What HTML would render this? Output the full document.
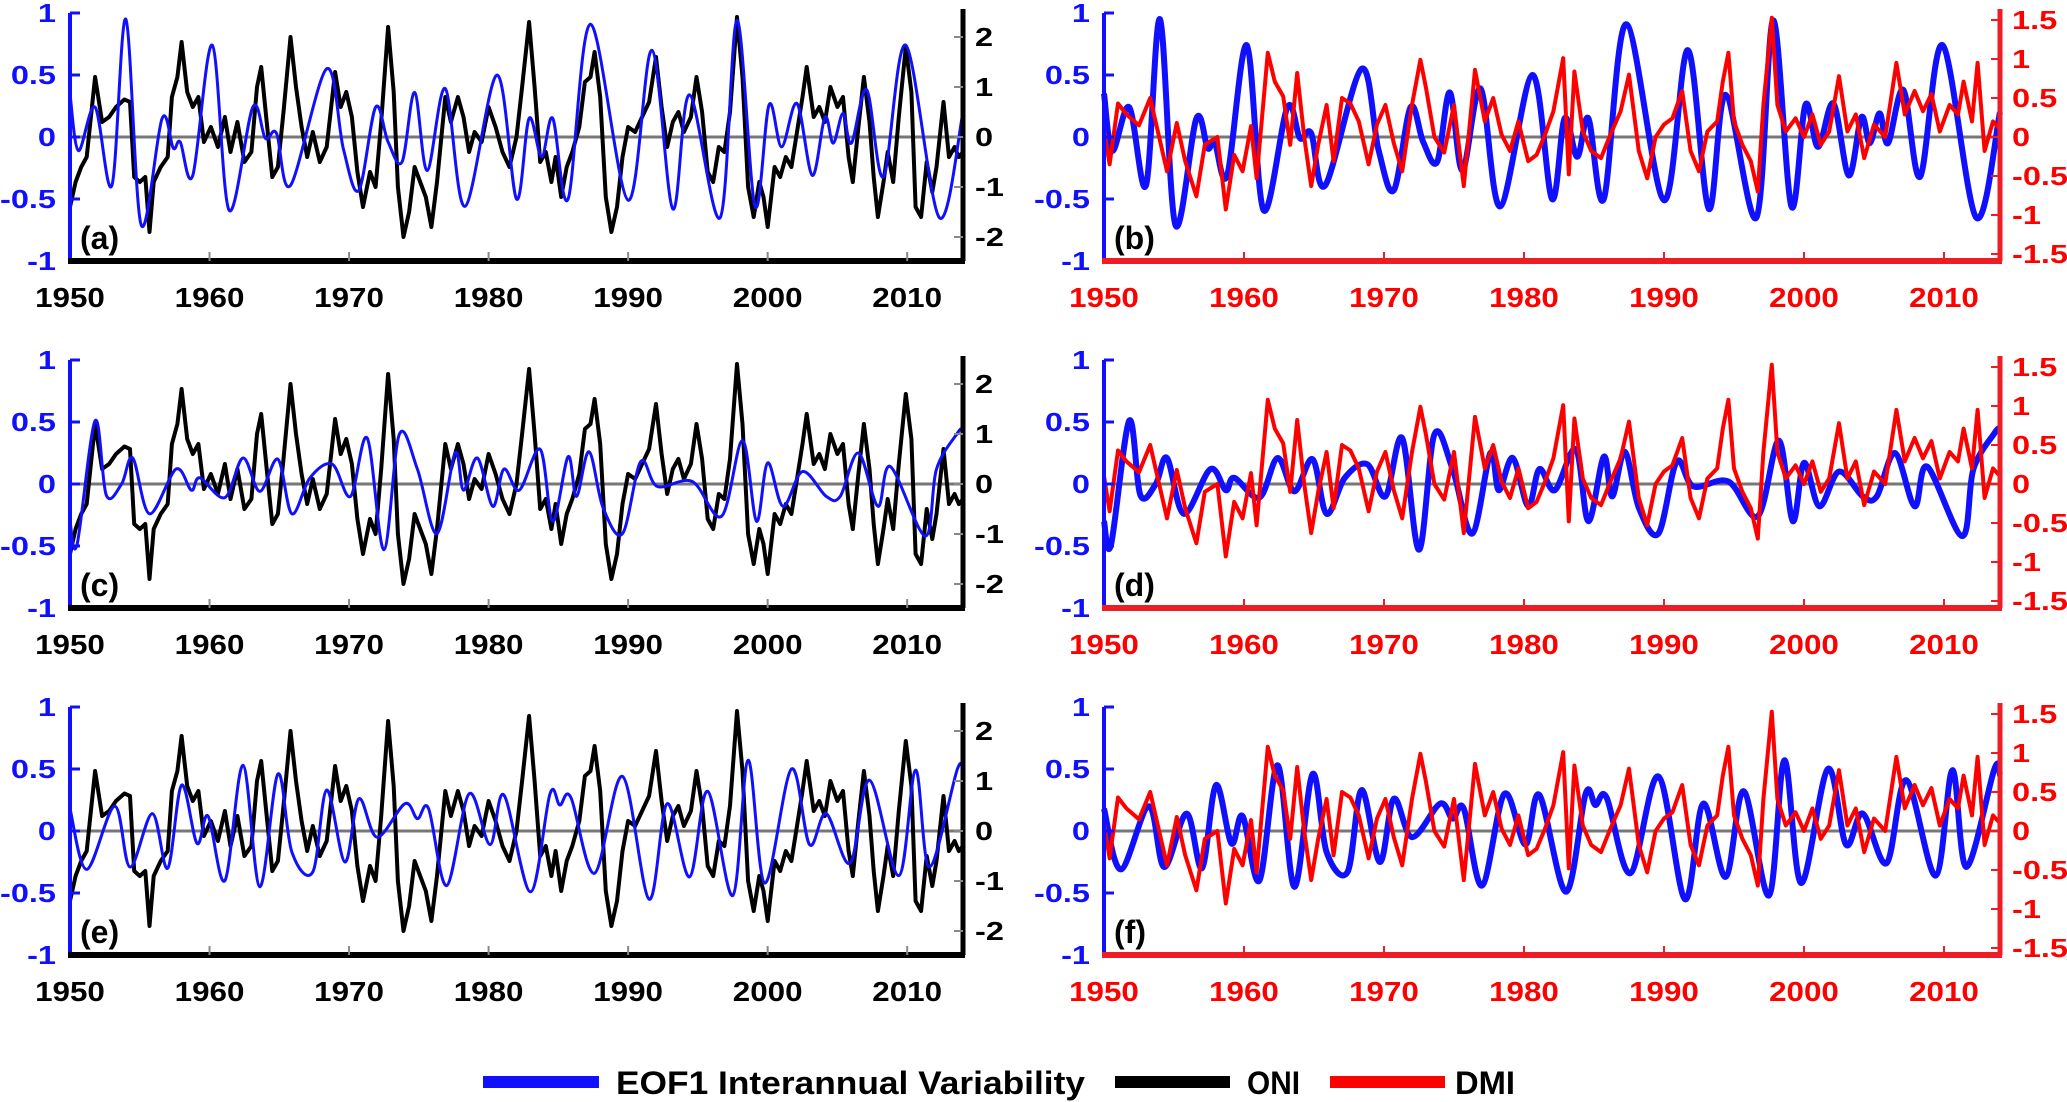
<!DOCTYPE html>
<html><head><meta charset="utf-8">
<style>
html,body{margin:0;padding:0;background:#fff;}
svg{display:block;font-family:"Liberation Sans",Arial,sans-serif;font-weight:bold;}
</style></head>
<body>
<svg id="fig" width="2067" height="1102" viewBox="0 0 2067 1102" xmlns="http://www.w3.org/2000/svg">
  <g id="panels"></g>
  <g id="legend">
    <line x1="483" y1="1082" x2="599" y2="1082" stroke="#1010ff" stroke-width="12"/>
    <text x="616" y="1094" font-size="32" textLength="469" lengthAdjust="spacingAndGlyphs">EOF1 Interannual Variability</text>
    <line x1="1115" y1="1082" x2="1230" y2="1082" stroke="#000" stroke-width="12"/>
    <text x="1247" y="1094" font-size="32" textLength="53" lengthAdjust="spacingAndGlyphs">ONI</text>
    <line x1="1330" y1="1082" x2="1445" y2="1082" stroke="#ff0000" stroke-width="12"/>
    <text x="1455" y="1094" font-size="32" textLength="60" lengthAdjust="spacingAndGlyphs">DMI</text>
  </g>
</svg>
<script>
// ---------- data ----------
const xTickYears = [1950,1960,1970,1980,1990,2000,2010];
const leftTicks = [1,0.5,0,-0.5,-1];
const leftTickLabels = ["1","0.5","0","-0.5","-1"];
const oniTicks = [2,1,0,-1,-2];
const oniTickLabels = ["2","1","0","-1","-2"];
const dmiTicks = [1.5,1,0.5,0,-0.5,-1,-1.5];
const dmiTickLabels = ["1.5","1","0.5","0","-0.5","-1","-1.5"];

const eofAYears = [1950.0,1950.6,1951.8,1953.0,1954.0,1955.1,1956.6,1957.4,1957.9,1958.8,1960.2,1961.4,1963.1,1964.0,1964.8,1965.8,1968.4,1969.6,1970.7,1971.9,1972.8,1973.8,1974.7,1975.6,1976.9,1978.3,1980.6,1982.0,1982.9,1983.8,1984.6,1985.7,1987.3,1990.0,1991.7,1993.2,1994.4,1996.6,1997.8,1999.1,2000.1,2001.0,2002.1,2003.2,2004.1,2004.7,2005.4,2006.0,2007.1,2008.3,2009.9,2012.3,2014.0];
const eofAValues = [0.35,-0.11,0.24,-0.39,0.95,-0.71,0.15,-0.09,-0.04,-0.31,0.74,-0.59,0.24,-0.01,0.03,-0.39,0.55,-0.1,-0.43,0.24,-0.04,-0.2,0.36,-0.27,0.39,-0.56,0.5,-0.5,0.15,-0.16,0.15,-0.5,0.91,-0.51,0.70,-0.58,0.34,-0.65,0.94,-0.56,0.26,-0.08,0.27,-0.31,0.16,-0.05,0.19,-0.05,0.38,-0.32,0.74,-0.65,0.2];

const eofCYears = [1950.0,1950.5,1951.8,1952.6,1953.7,1954.5,1955.7,1957.6,1958.7,1959.3,1961.1,1962.4,1963.6,1964.9,1965.9,1967.2,1968.8,1970.1,1971.3,1972.5,1973.6,1974.9,1976.3,1977.6,1978.2,1979.2,1980.3,1981.1,1982.2,1983.7,1984.6,1985.7,1986.3,1987.2,1988.2,1989.6,1990.9,1992.1,1994.6,1996.7,1998.2,1999.2,2000.0,2001.1,2002.5,2004.2,2005.2,2006.5,2007.9,2008.8,2011.3,2012.1,2013.6,2014.0];
const eofCValues = [-0.3,-0.49,0.51,-0.09,0.0,0.21,-0.24,0.12,-0.05,0.05,-0.11,0.21,-0.06,0.2,-0.24,0.05,0.16,-0.1,0.37,-0.53,0.4,0.12,-0.4,0.25,-0.05,0.21,-0.18,0.12,-0.05,0.28,-0.3,0.22,-0.1,0.26,-0.19,-0.4,0.18,-0.02,0.02,-0.26,0.35,-0.3,0.17,-0.18,0.1,-0.1,-0.1,0.25,-0.18,0.14,-0.42,0.12,0.41,0.45];

const eofEYears = [1950.0,1951.2,1953.2,1954.3,1955.9,1957.0,1958.0,1959.1,1959.9,1961.1,1962.4,1963.6,1964.9,1965.9,1967.4,1968.4,1969.7,1970.7,1972.0,1974.0,1974.9,1975.7,1977.0,1978.6,1980.1,1981.1,1983.0,1984.4,1985.1,1985.9,1987.6,1989.6,1991.5,1992.8,1994.4,1995.7,1997.5,1998.6,1999.8,2001.7,2003.0,2004.2,2005.9,2007.3,2009.4,2010.6,2011.6,2013.6,2014.0];
const eofEValues = [0.18,-0.31,0.2,-0.29,0.14,-0.3,0.37,-0.1,0.12,-0.4,0.53,-0.45,0.46,-0.17,-0.33,0.33,-0.25,0.26,-0.05,0.22,0.1,0.18,-0.44,0.3,-0.11,0.29,-0.49,0.3,0.21,0.27,-0.34,0.44,-0.55,0.22,-0.37,0.32,-0.52,0.57,-0.42,0.5,-0.11,0.14,-0.26,0.41,-0.36,0.49,-0.29,0.5,0.45];

const oniYears = [1950.0,1950.4,1950.8,1951.2,1951.8,1952.3,1952.8,1953.3,1953.9,1954.3,1954.6,1955.0,1955.4,1955.7,1956.0,1956.5,1957.0,1957.3,1957.7,1958.0,1958.4,1958.8,1959.2,1959.6,1960.1,1960.6,1961.1,1961.5,1962.0,1962.5,1963.0,1963.4,1963.7,1964.1,1964.5,1964.9,1965.3,1965.8,1966.2,1966.6,1967.0,1967.4,1967.9,1968.4,1969.0,1969.4,1969.8,1970.2,1970.6,1971.0,1971.5,1971.9,1972.3,1972.8,1973.2,1973.5,1973.9,1974.3,1974.7,1975.1,1975.5,1975.9,1976.3,1976.9,1977.3,1977.8,1978.2,1978.6,1979.0,1979.5,1980.0,1980.5,1981.0,1981.5,1982.0,1982.4,1982.9,1983.3,1983.7,1984.1,1984.5,1984.8,1985.2,1985.6,1986.0,1986.5,1986.9,1987.3,1987.6,1988.0,1988.4,1988.8,1989.2,1989.6,1990.0,1990.5,1991.0,1991.5,1992.0,1992.4,1992.8,1993.2,1993.6,1994.0,1994.5,1994.9,1995.3,1995.7,1996.1,1996.5,1996.9,1997.3,1997.8,1998.2,1998.6,1999.0,1999.4,1999.7,2000.0,2000.5,2000.9,2001.3,2001.7,2002.1,2002.5,2002.8,2003.3,2003.7,2004.1,2004.5,2005.0,2005.4,2005.8,2006.1,2006.5,2006.9,2007.3,2007.6,2007.9,2008.3,2008.6,2009.0,2009.4,2009.9,2010.3,2010.6,2011.0,2011.4,2011.8,2012.1,2012.6,2013.0,2013.4,2013.7,2014.0];
const oniValues = [-1.4,-0.9,-0.6,-0.4,1.2,0.3,0.4,0.6,0.75,0.7,-0.8,-0.9,-0.8,-1.9,-0.9,-0.6,-0.4,0.8,1.2,1.9,0.9,0.6,0.8,-0.1,0.2,-0.2,0.4,-0.3,0.3,-0.5,-0.3,1.0,1.4,0.3,-0.8,-0.6,0.5,2.0,1.0,0.2,-0.4,0.1,-0.5,-0.2,1.3,0.6,0.9,0.4,-0.7,-1.4,-0.7,-1.0,0.3,2.2,0.9,-1.0,-2.0,-1.5,-0.6,-0.9,-1.2,-1.8,-0.9,0.8,0.3,0.8,0.4,-0.3,0.1,-0.1,0.6,0.2,-0.3,-0.6,0.0,1.0,2.3,1.0,-0.5,-0.3,-0.9,-0.4,-1.2,-0.6,-0.3,0.2,1.1,1.2,1.7,0.8,-1.2,-1.9,-1.4,-0.4,0.2,0.1,0.4,0.7,1.6,0.6,-0.2,0.3,0.5,0.1,0.4,1.2,0.5,-0.7,-0.9,-0.2,-0.3,0.5,2.4,1.2,-1.0,-1.6,-0.9,-1.2,-1.8,-0.6,-0.8,-0.4,-0.6,0.1,0.8,1.4,0.4,0.6,0.3,1.0,0.6,0.8,-0.4,-0.9,0.2,1.2,0.3,-0.8,-1.6,-0.9,-0.3,-0.9,0.4,1.8,0.9,-1.4,-1.6,-0.5,-1.1,-0.6,0.7,-0.4,-0.2,-0.4,-0.3];

const dmiYears = [1950.0,1950.4,1951.0,1951.6,1952.5,1953.3,1953.9,1954.5,1955.2,1955.8,1956.6,1957.2,1958.1,1958.7,1959.3,1959.9,1960.5,1960.9,1961.7,1962.2,1962.8,1963.3,1963.8,1964.3,1964.8,1965.3,1965.9,1966.4,1967.0,1967.6,1968.2,1968.9,1969.5,1970.1,1970.7,1971.3,1972.0,1972.6,1973.0,1973.6,1974.3,1975.0,1975.7,1976.5,1977.2,1977.8,1978.4,1979.0,1979.6,1980.3,1980.9,1981.5,1982.1,1982.8,1983.2,1983.6,1984.2,1984.8,1985.5,1986.1,1986.9,1987.5,1988.2,1988.8,1989.4,1990.0,1990.6,1991.3,1991.9,1992.5,1993.1,1993.8,1994.2,1994.6,1995.0,1995.6,1996.2,1996.7,1997.1,1997.7,1998.1,1998.7,1999.4,2000.0,2000.6,2001.2,2001.8,2002.5,2003.1,2003.7,2004.3,2005.0,2005.8,2006.6,2007.2,2007.9,2008.5,2009.1,2009.7,2010.4,2011.0,2011.4,2012.0,2012.4,2012.9,2013.5,2014.0];
const dmiValues = [0.1,-0.35,0.43,0.29,0.15,0.5,0.03,-0.44,0.18,-0.31,-0.76,-0.1,0.0,-0.93,-0.23,-0.44,0.14,-0.53,1.08,0.71,0.52,-0.1,0.82,0.0,-0.63,-0.1,0.41,-0.31,0.5,0.43,0.2,-0.35,0.16,0.41,-0.08,-0.44,0.41,0.99,0.63,0.0,-0.2,0.41,-0.63,0.86,0.2,0.5,0.03,-0.18,0.2,-0.31,-0.23,0.03,0.33,1.01,-0.48,0.84,0.07,-0.18,-0.27,0.0,0.33,0.8,-0.18,-0.53,0.0,0.16,0.24,0.59,-0.18,-0.44,0.07,0.2,0.71,1.08,0.2,-0.1,-0.31,-0.7,0.41,1.53,0.41,0.07,0.24,0.0,0.29,-0.1,0.07,0.78,0.07,0.29,-0.27,0.16,0.0,0.95,0.29,0.59,0.33,0.55,0.07,0.41,0.29,0.71,0.2,0.95,-0.18,0.2,0.1];

// ---------- layout ----------
const NS = "http://www.w3.org/2000/svg";
const root = document.getElementById('panels');
const rowTops = [13,360,707];
const PH = 248;
const cols = [{x0:70,x1:963},{x0:1104,x1:2000}];

function mk(tag, attrs, parent){
  const e = document.createElementNS(NS, tag);
  for (const k in attrs) e.setAttribute(k, attrs[k]);
  parent.appendChild(e);
  return e;
}
function catmull(pts){
  let d = "M"+pts[0][0].toFixed(1)+","+pts[0][1].toFixed(1);
  for (let i=0;i<pts.length-1;i++){
    const p0=pts[Math.max(0,i-1)], p1=pts[i], p2=pts[i+1], p3=pts[Math.min(pts.length-1,i+2)];
    const c1x=p1[0]+(p2[0]-p0[0])/6, c1y=p1[1]+(p2[1]-p0[1])/6;
    const c2x=p2[0]-(p3[0]-p1[0])/6, c2y=p2[1]-(p3[1]-p1[1])/6;
    d += " C"+c1x.toFixed(1)+","+c1y.toFixed(1)+" "+c2x.toFixed(1)+","+c2y.toFixed(1)+" "+p2[0].toFixed(1)+","+p2[1].toFixed(1);
  }
  return d;
}
function poly(pts){ return "M"+pts.map(p=>p[0].toFixed(1)+","+p[1].toFixed(1)).join(" L"); }

const panelDefs = [
  {id:'a', row:0, col:0, eofY:eofAYears, eofV:eofAValues},
  {id:'b', row:0, col:1, eofY:eofAYears, eofV:eofAValues},
  {id:'c', row:1, col:0, eofY:eofCYears, eofV:eofCValues},
  {id:'d', row:1, col:1, eofY:eofCYears, eofV:eofCValues},
  {id:'e', row:2, col:0, eofY:eofEYears, eofV:eofEValues},
  {id:'f', row:2, col:1, eofY:eofEYears, eofV:eofEValues}
];

panelDefs.forEach(p=>{
  const top = rowTops[p.row], bot = top+PH, mid = top+PH/2;
  const {x0,x1} = cols[p.col];
  const isLeft = p.col===0;
  const xs = yr => x0 + (yr-1950)/64*(x1-x0);
  const yL = v => mid - v*PH/2;
  const yR = isLeft ? (v => mid - v*50) : (v => mid - v*78);
  const rightColor = isLeft ? '#000' : '#ee1c24';
  const bottomColor = isLeft ? '#000' : '#ee1c24';
  const g = mk('g', {}, root);
  
  

  const z = mk('line', {x1:x0, x2:x1, y1:mid, y2:mid, stroke:'#777', 'stroke-width':3}, g);
  
  

  const eofPts = p.eofY.map((yr,i)=>[xs(yr), yL(p.eofV[i])]);
  const sec = isLeft ? {ys:oniYears, vs:oniValues, c:'#000', w:4, n:'oni-line'} : {ys:dmiYears, vs:dmiValues, c:'#ff0000', w:4, n:'dmi-line'};
  const secPts = sec.ys.map((yr,i)=>[xs(yr), yR(sec.vs[i])]);
  const eofPath = mk('path', {d:catmull(eofPts), fill:'none', stroke:'#1010ff', 'stroke-width': isLeft?3:6, 'stroke-linejoin':'round'}, g);
  
  
  const secPath = mk('path', {d:poly(secPts), fill:'none', stroke:sec.c, 'stroke-width':sec.w, 'stroke-linejoin':'round'}, g);
  
  
  if (isLeft) g.insertBefore(secPath, eofPath);

  const la = mk('line', {x1:x0, x2:x0, y1:top, y2:bot, stroke:'#1010ff', 'stroke-width':4}, g);
  
  
  leftTicks.forEach((v,i)=>{
    const t = mk('line', {x1:x0, x2:x0+10, y1:yL(v), y2:yL(v), stroke:'#1010ff', 'stroke-width':3}, g);
    
    
    const tx = mk('text', {x:0, y:0, 'font-size':26, fill:'#1010ff', 'text-anchor':'end',
      transform:'translate('+(x0-14)+','+(yL(v)+9)+') scale(1.25,1)'}, g);
    tx.textContent = leftTickLabels[i];
    
    
  });

  const ra = mk('line', {x1:x1, x2:x1, y1:top-4, y2:bot, stroke:rightColor, 'stroke-width':5}, g);
  
  
  const rt = isLeft ? oniTicks : dmiTicks, rl = isLeft ? oniTickLabels : dmiTickLabels;
  rt.forEach((v,i)=>{
    const t = mk('line', {x1:x1-9, x2:x1, y1:yR(v), y2:yR(v), stroke:isLeft?'#888':'#ee1c24', 'stroke-width':2}, g);
    
    
    const tx = mk('text', {x:0, y:0, 'font-size':26, fill:isLeft?'#000':'#ff0000',
      transform:'translate('+(x1+12)+','+(yR(v)+9)+') scale(1.25,1)'}, g);
    tx.textContent = rl[i];
    
    
  });

  const ba = mk('line', {x1:x0-2, x2:x1+2, y1:bot, y2:bot, stroke:bottomColor, 'stroke-width':6}, g);
  
  
  xTickYears.forEach(yr=>{
    if (yr>1950){
      const t = mk('line', {x1:xs(yr), x2:xs(yr), y1:bot-9, y2:bot, stroke:isLeft?'#888':'#ee1c24', 'stroke-width':2}, g);
      
      
    }
    const tx = mk('text', {x:0, y:0, 'font-size':28, fill:isLeft?'#000':'#ff0000', 'text-anchor':'middle',
      transform:'translate('+xs(yr)+','+(bot+46)+') scale(1.12,1)'}, g);
    tx.textContent = String(yr);
    
    
  });

  const pl = mk('text', {x:x0+10, y:bot-12, 'font-size':32, fill:'#000'}, g);
  pl.textContent = '('+p.id+')';
  
  
});
</script>
</body></html>
